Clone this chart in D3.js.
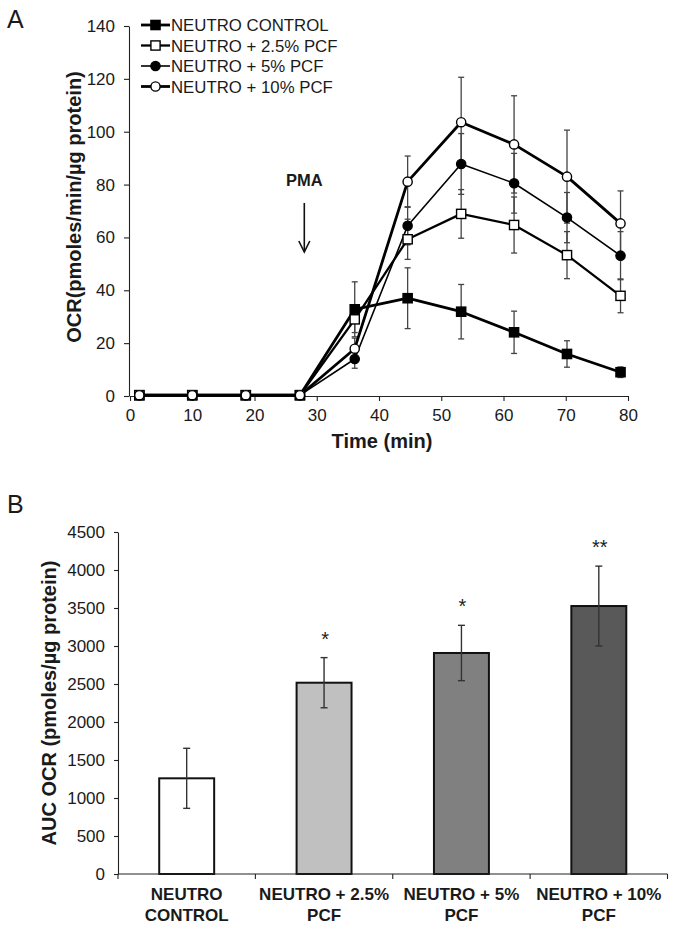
<!DOCTYPE html>
<html><head><meta charset="utf-8">
<script src="https://cdn.jsdelivr.net/npm/d3@7/dist/d3.min.js"></script>
<style>
body{margin:0;background:#fff;}
svg{display:block;font-family:Arial,"Liberation Sans",sans-serif;}
.axis text{font-size:17px;fill:#1a1a1a;font-family:Arial,"Liberation Sans",sans-serif;}
.axis path,.axis line{stroke:#222;stroke-width:1.1px;}
</style></head>
<body>
<svg id="c" width="675" height="931"></svg>
<script>
// ---------- Panel A data ----------
const times = [1.5, 10, 18.6, 27.3, 36.1, 44.6, 53.2, 61.7, 70.2, 78.8];
const seriesNames = ["NEUTRO CONTROL", "NEUTRO + 2.5% PCF", "NEUTRO + 5% PCF", "NEUTRO + 10% PCF"];
const controlOCR = [0.3, 0.3, 0.3, 0.3, 32.8, 37.0, 31.9, 24.1, 15.9, 9.0];
const controlErr = [0.3, 0.3, 0.3, 0.3, 10.4, 11.5, 10.3, 8.0, 5.0, 2.0];
const pcf25OCR   = [0.3, 0.3, 0.3, 0.3, 29.0, 59.3, 68.9, 64.7, 53.3, 37.9];
const pcf25Err   = [0.3, 0.3, 0.3, 0.3, 5.0, 7.6, 9.2, 10.6, 8.9, 6.4];
const pcf5OCR    = [0.3, 0.3, 0.3, 0.3, 14.0, 64.4, 87.8, 80.5, 67.5, 53.1];
const pcf5Err    = [0.3, 0.3, 0.3, 0.3, 3.5, 7.2, 11.5, 11.3, 9.5, 9.1];
const pcf10OCR   = [0.3, 0.3, 0.3, 0.3, 17.9, 81.1, 103.6, 95.2, 83.0, 65.3];
const pcf10Err   = [0.3, 0.3, 0.3, 0.3, 4.0, 9.7, 17.0, 18.4, 17.6, 12.3];
const timeTicks = [0, 10, 20, 30, 40, 50, 60, 70, 80];
const ocrTicks = [0, 20, 40, 60, 80, 100, 120, 140];
const pmaTime = 28;

// ---------- Panel B data ----------
const barLines = [["NEUTRO", "CONTROL"], ["NEUTRO + 2.5%", "PCF"], ["NEUTRO + 5%", "PCF"], ["NEUTRO + 10%", "PCF"]];
const aucValues = [1259, 2517, 2908, 3526];
const aucErr = [395, 330, 364, 525];
const aucStars = ["", "*", "*", "**"];
const aucTicks = [0, 500, 1000, 1500, 2000, 2500, 3000, 3500, 4000, 4500];
const barFills = ["#ffffff", "#c0c0c0", "#808080", "#595959"];

const svg = d3.select("#c");

// ================= Panel A =================
const x = d3.scaleLinear().domain([0, 80]).range([130, 628]);
const y = d3.scaleLinear().domain([0, 140]).range([396, 26]);

svg.append("text").attr("x", 7).attr("y", 28).attr("font-size", 25).attr("fill", "#1a1a1a").text("A");

svg.append("g").attr("class", "axis").attr("transform", "translate(0,396)")
  .call(d3.axisBottom(x).tickValues(timeTicks).tickSize(5).tickSizeOuter(0).tickPadding(8));
svg.append("g").attr("class", "axis").attr("transform", "translate(129,0)")
  .call(d3.axisLeft(y).tickValues(ocrTicks).tickSize(5).tickSizeOuter(0).tickPadding(9));

svg.append("text").attr("x", 382).attr("y", 448).attr("text-anchor", "middle")
  .attr("font-size", 20).attr("font-weight", "bold").attr("fill", "#1a1a1a").text("Time (min)");
svg.append("text").attr("transform", "translate(81,207) rotate(-90)").attr("text-anchor", "middle")
  .attr("font-size", 20).attr("font-weight", "bold").attr("fill", "#1a1a1a").text("OCR(pmoles/min/µg protein)");

// PMA arrow
const ax = x(pmaTime);
svg.append("text").attr("x", ax).attr("y", 186).attr("text-anchor", "middle")
  .attr("font-size", 16.5).attr("font-weight", "bold").attr("fill", "#1a1a1a").text("PMA");
svg.append("line").attr("x1", ax).attr("x2", ax).attr("y1", 203).attr("y2", 252).attr("stroke", "#111").attr("stroke-width", 1.6);
svg.append("path").attr("d", `M${ax-5.5},${241} L${ax},${252} L${ax+5.5},${241}`).attr("fill", "none").attr("stroke", "#111").attr("stroke-width", 1.6);

const series = [
  {name: seriesNames[0], v: controlOCR, e: controlErr, shape: "square", fill: "#000", lw: 2.8},
  {name: seriesNames[1], v: pcf25OCR, e: pcf25Err, shape: "square", fill: "#fff", lw: 2.3},
  {name: seriesNames[2], v: pcf5OCR, e: pcf5Err, shape: "circle", fill: "#000", lw: 1.6},
  {name: seriesNames[3], v: pcf10OCR, e: pcf10Err, shape: "circle", fill: "#fff", lw: 2.8}
];

// error bars
series.forEach(s => {
  const g = svg.append("g");
  times.forEach((t, i) => {
    const cx = x(t), y1 = y(s.v[i] + s.e[i]), y2 = y(s.v[i] - s.e[i]);
    g.append("line").attr("x1", cx).attr("x2", cx).attr("y1", y1).attr("y2", y2).attr("stroke", "#444").attr("stroke-width", 1.3);
    [y1, y2].forEach(yy => g.append("line").attr("x1", cx-3).attr("x2", cx+3).attr("y1", yy).attr("y2", yy).attr("stroke", "#444").attr("stroke-width", 1.3));
  });
});
// lines
const lineGen = d3.line().x((d, i) => x(times[i])).y(d => y(d));
series.forEach(s => {
  svg.append("path").datum(s.v).attr("d", lineGen).attr("fill", "none").attr("stroke", "#000").attr("stroke-width", s.lw).attr("stroke-linejoin", "round");
});
function marker(g, s, cx, cy) {
  if (s.shape === "square") {
    g.append("rect").attr("x", cx-4.6).attr("y", cy-4.6).attr("width", 9.2).attr("height", 9.2)
      .attr("fill", s.fill).attr("stroke", "#000").attr("stroke-width", 1.4);
  } else {
    g.append("circle").attr("cx", cx).attr("cy", cy).attr("r", 4.6)
      .attr("fill", s.fill).attr("stroke", "#000").attr("stroke-width", 1.4);
  }
}
series.forEach(s => {
  const g = svg.append("g");
  times.forEach((t, i) => marker(g, s, x(t), y(s.v[i])));
});

// legend
series.forEach((s, i) => {
  const ly = 25 + i * 20.5;
  svg.append("line").attr("x1", 141).attr("x2", 170).attr("y1", ly).attr("y2", ly).attr("stroke", "#000").attr("stroke-width", s.lw);
  marker(svg, s, 155.5, ly);
  svg.append("text").attr("x", 171).attr("y", ly + 6).attr("font-size", 16.8).attr("fill", "#1a1a1a").text(s.name);
});

// ================= Panel B =================
const xb = d3.scaleBand().domain(d3.range(aucValues.length)).range([118, 667.5]).paddingInner(0).paddingOuter(0);
const yb = d3.scaleLinear().domain([0, 4500]).range([874, 532]);

svg.append("text").attr("x", 7).attr("y", 513).attr("font-size", 25).attr("fill", "#1a1a1a").text("B");

svg.append("g").attr("class", "axis").attr("transform", "translate(118,0)")
  .call(d3.axisLeft(yb).tickValues(aucTicks).tickFormat(d3.format("d")).tickSize(4).tickSizeOuter(0).tickPadding(9));

svg.append("text").attr("transform", "translate(56,703) rotate(-90)").attr("text-anchor", "middle")
  .attr("font-size", 20).attr("font-weight", "bold").attr("fill", "#1a1a1a").text("AUC OCR (pmoles/µg protein)");

const bw = xb.bandwidth() * 0.4;
aucValues.forEach((v, i) => {
  const cx = xb(i) + xb.bandwidth() / 2;
  svg.append("rect").attr("x", cx - bw/2).attr("y", yb(v)).attr("width", bw).attr("height", yb(0) - yb(v))
    .attr("fill", barFills[i]).attr("stroke", "#111").attr("stroke-width", 2);
  const y1 = yb(v + aucErr[i]), y2 = yb(v - aucErr[i]);
  svg.append("line").attr("x1", cx).attr("x2", cx).attr("y1", y1).attr("y2", y2).attr("stroke", "#333").attr("stroke-width", 1.4);
  [y1, y2].forEach(yy => svg.append("line").attr("x1", cx-3.5).attr("x2", cx+3.5).attr("y1", yy).attr("y2", yy).attr("stroke", "#333").attr("stroke-width", 1.4));
  if (aucStars[i]) {
    svg.append("text").attr("x", cx + 1).attr("y", y1 - 12).attr("text-anchor", "middle")
      .attr("font-size", 20).attr("fill", "#222").text(aucStars[i]);
  }
  const t = svg.append("text").attr("text-anchor", "middle").attr("font-size", 17).attr("font-weight", "bold").attr("fill", "#1a1a1a");
  barLines[i].forEach((ln, k) => t.append("tspan").attr("x", cx).attr("y", 900 + k * 20.5).text(ln));
});
// x axis with band-boundary ticks
svg.append("line").attr("x1", 118).attr("x2", 667.5).attr("y1", 874).attr("y2", 874).attr("stroke", "#222").attr("stroke-width", 1.2);
const bounds = xb.domain().map(d => xb(d)).concat([xb.range()[1]]);
bounds.forEach(bx => svg.append("line").attr("x1", bx).attr("x2", bx).attr("y1", 874).attr("y2", 879).attr("stroke", "#222").attr("stroke-width", 1.1));
</script>
</body></html>
